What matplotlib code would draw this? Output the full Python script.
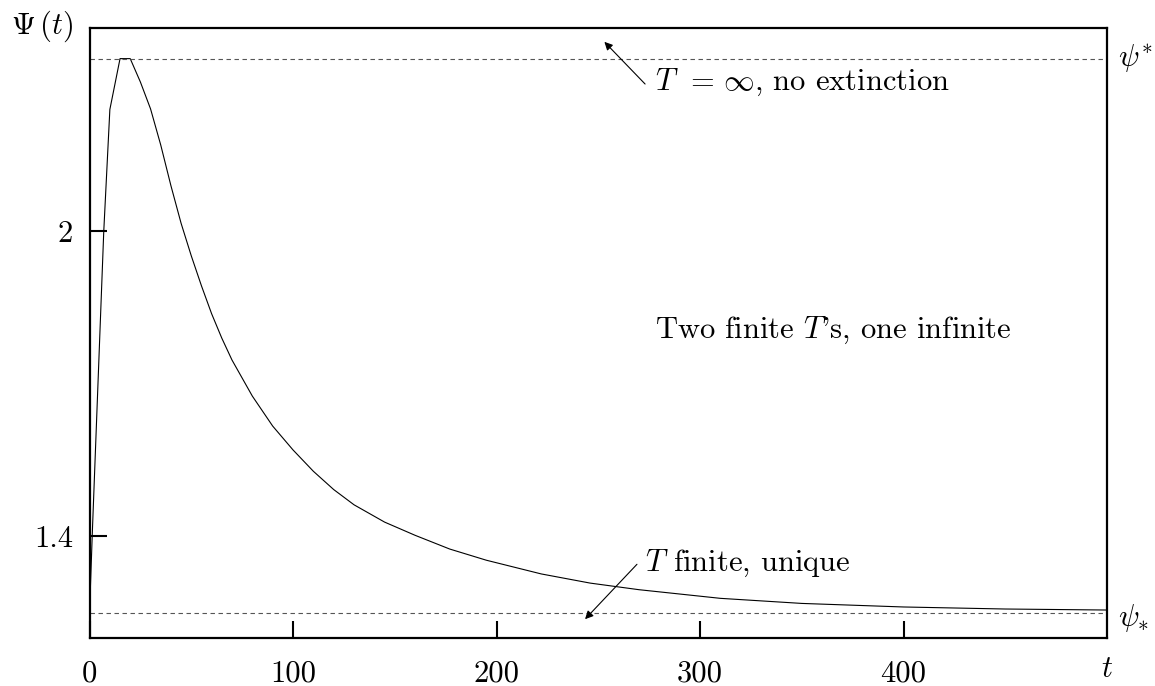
import matplotlib
matplotlib.use("Agg")
import matplotlib.pyplot as plt
import matplotlib.transforms as mtransforms

# ---- data ----
t_vals = [0, 1.5, 7, 10, 15, 20, 25, 30, 35, 40, 45, 50, 55, 60, 65, 70, 80,
          90, 100, 110, 120, 130, 145, 160, 177, 195, 210, 222, 246, 270,
          310, 350, 400, 450, 500]
psi_vals = [1.25, 1.42, 2.0, 2.24, 2.34, 2.34, 2.294, 2.241, 2.170, 2.090,
            2.016, 1.952, 1.893, 1.838, 1.790, 1.747, 1.676, 1.617, 1.570,
            1.528, 1.492, 1.462, 1.428, 1.402, 1.375, 1.353, 1.338, 1.326,
            1.308, 1.295, 1.278, 1.268, 1.261, 1.257, 1.255]
psi_upper = 2.34
psi_lower = 1.25
x_ticks = [0, 100, 200, 300, 400]
x_tick_labels = ["0", "100", "200", "300", "400"]
y_ticks = [1.4, 2.0]
y_tick_labels = ["1.4", "2"]

plt.rcParams["font.family"] = "cmr10"
plt.rcParams["mathtext.fontset"] = "cm"
plt.rcParams["axes.formatter.use_mathtext"] = True

fig = plt.figure(figsize=(11.55, 6.86), dpi=100)
ax = fig.add_axes([0.0775, 0.07, 0.881, 0.889])

ax.plot(t_vals, psi_vals, color="black", lw=0.8)
ax.axhline(psi_upper, color="#555555", lw=0.8, dashes=(4, 3.2))
ax.axhline(psi_lower, color="#555555", lw=0.8, dashes=(4, 3.2))

ax.set_xlim(0, 500)
ax.set_ylim(1.2, 2.4)
ax.set_xticks(x_ticks)
ax.set_xticklabels(x_tick_labels)
ax.set_yticks(y_ticks)
ax.set_yticklabels(y_tick_labels)
fs = 22
ax.tick_params(direction="in", length=12, width=1.5, labelsize=fs)
ax.tick_params(axis="x", pad=16)
ax.tick_params(axis="y", pad=12)
for s in ax.spines.values():
    s.set_linewidth(1.6)

# annotations
ax.annotate("", xy=(253, 2.373), xytext=(273, 2.29),
            arrowprops=dict(arrowstyle="-|>", color="black", lw=0.8,
                            mutation_scale=12, shrinkA=0, shrinkB=0))
ax.text(278, 2.294, r"$T\;\,=\,\infty$, no extinction", fontsize=fs, va="center", ha="left")

ax.annotate("", xy=(243.5, 1.237), xytext=(269, 1.345),
            arrowprops=dict(arrowstyle="-|>", color="black", lw=0.8,
                            mutation_scale=12, shrinkA=0, shrinkB=0))
ax.text(273, 1.347, r"$T$ finite, unique", fontsize=fs, va="center", ha="left")

ax.text(278, 1.806, r"Two finite $T$'s, one infinite", fontsize=fs, va="center", ha="left")

# right-side labels
trans_r = mtransforms.blended_transform_factory(ax.transAxes, ax.transData)
ax.text(1.011, psi_upper, r"$\psi^{*}$", transform=trans_r, fontsize=fs,
        va="center", ha="left")
ax.text(1.011, psi_lower - 0.01, r"$\psi_{*}$", transform=trans_r, fontsize=fs,
        va="center", ha="left")

# axis labels
trans_b = mtransforms.blended_transform_factory(ax.transData, ax.transAxes)
ax.text(500, -0.052, r"$t$", transform=trans_b, fontsize=fs, va="center", ha="center")
fig.text(0.036, 0.962, r"$\Psi\,(t)$", fontsize=fs, va="center", ha="center")

fig.savefig("out.png", dpi=100)
